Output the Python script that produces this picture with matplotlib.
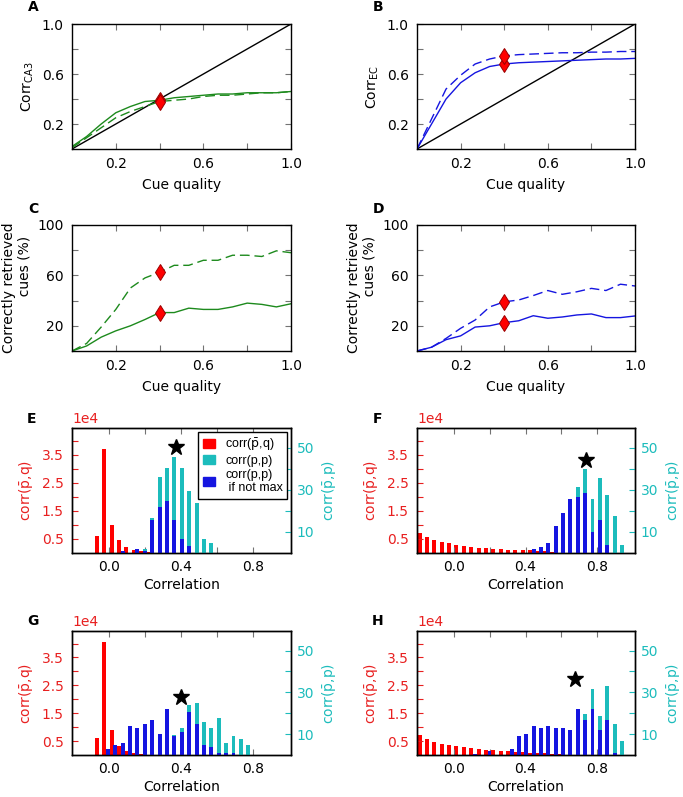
import matplotlib
matplotlib.use('Agg')
import matplotlib.pyplot as plt
from matplotlib.patches import Patch

plt.rcParams['font.family'] = 'DejaVu Sans'
plt.rcParams['font.size'] = 10

# cue quality steps used in panels A-D
cue = [0.0, 0.0667, 0.1333, 0.2, 0.2667, 0.3333, 0.4, 0.4667,
       0.5333, 0.6, 0.6667, 0.7333, 0.8, 0.8667, 0.9333, 1.0]
cue_mark = 0.4

corr_ca3 = [0.02, 0.10, 0.20, 0.29, 0.34, 0.38, 0.39, 0.41,
            0.42, 0.43, 0.44, 0.44, 0.45, 0.45, 0.45, 0.46]
corr_ca3_d = [0.01, 0.09, 0.17, 0.25, 0.30, 0.34, 0.38, 0.39,
              0.40, 0.42, 0.43, 0.43, 0.44, 0.45, 0.45, 0.46]
corr_ec = [0.0, 0.20, 0.40, 0.53, 0.61, 0.66, 0.68, 0.69,
           0.695, 0.70, 0.705, 0.71, 0.715, 0.72, 0.72, 0.725]
corr_ec_d = [0.0, 0.24, 0.48, 0.59, 0.68, 0.72, 0.745, 0.755,
             0.76, 0.765, 0.77, 0.77, 0.775, 0.775, 0.78, 0.78]
ret_ca3 = [0, 4, 11, 16, 20, 25, 30.5, 30.5, 34, 33, 33, 35, 38, 37, 35, 37.5]
ret_ca3_d = [0, 6, 19, 33, 50, 58, 62.5, 68, 68, 72, 72, 76, 76, 75, 79.5, 78]
ret_ec = [0, 3, 9, 12, 19, 20, 22.5, 24, 28, 26, 27, 28.6, 29.4, 26.5, 26.5, 27.8]
ret_ec_d = [0, 3, 10, 18, 24.6, 35, 39, 40.5, 44, 48, 45, 47, 49.7, 48, 53, 51.6]

# histogram bins (E-H)
bins_pq = [-0.19, -0.149, -0.108, -0.067, -0.026, 0.015, 0.056, 0.097, 0.138, 0.179,
           0.22, 0.261, 0.302, 0.343, 0.384, 0.425, 0.466, 0.507, 0.548, 0.589,
           0.63, 0.671, 0.712, 0.753, 0.794, 0.835, 0.876, 0.917, 0.958, 0.999]
bins_pp = [-0.17, -0.129, -0.088, -0.047, -0.006, 0.035, 0.076, 0.117, 0.158, 0.199,
           0.24, 0.281, 0.322, 0.363, 0.404, 0.445, 0.486, 0.527, 0.568, 0.609,
           0.65, 0.691, 0.732, 0.773, 0.814, 0.855, 0.896, 0.937, 0.978, 1.019]

# corr(p_bar, q) counts, units of 1e4
pq_E = [0, 0, 0, 0.61, 3.71, 1.0, 0.45, 0.21, 0.11, 0.07, 0.03, 0, 0, 0, 0,
        0, 0, 0, 0, 0, 0, 0, 0, 0, 0, 0, 0, 0, 0, 0]
pq_F = [0.70, 0.56, 0.46, 0.40, 0.35, 0.29, 0.25, 0.21, 0.19, 0.17,
        0.155, 0.13, 0.12, 0.11, 0.11, 0.095, 0.07, 0.06, 0.04, 0.01,
        0, 0, 0, 0, 0, 0, 0, 0, 0, 0]
pq_G = [0, 0, 0, 0.62, 4.05, 0.88, 0.32, 0.14, 0.06, 0.04, 0, 0, 0, 0, 0,
        0, 0, 0, 0, 0, 0, 0, 0, 0, 0, 0, 0, 0, 0, 0]
pq_H = [0.71, 0.56, 0.48, 0.38, 0.36, 0.32, 0.27, 0.24, 0.21, 0.18,
        0.18, 0.15, 0.14, 0.12, 0.11, 0.08, 0.07, 0.06, 0.05, 0.04,
        0, 0, 0, 0, 0, 0, 0, 0, 0, 0]

# corr(p, p_bar) counts
pp_E = [0, 0, 0, 0, 0, 0, 1.0, 0, 1.9, 2.1, 16.5, 35.9, 40.6, 45.7, 40.6,
        29.7, 23.7, 6.8, 4.9, 0, 0, 0, 0, 0, 0, 0, 0, 0, 0, 0]
nm_E = [0, 0, 0, 0, 0, 0, 1.0, 0, 1.9, 1.0, 15.9, 21.9, 24.8, 15.7, 6.8,
        3.5, 0, 0, 0, 0, 0, 0, 0, 0, 0, 0, 0, 0, 0, 0]
pp_F = [0, 0, 0, 0, 0, 0, 0, 0, 0, 0, 0, 0, 0, 0, 0,
        1.9, 2.7, 4.9, 12.9, 18.9, 25.7, 31.6, 39.7, 25.7, 35.6, 27.6, 17.8, 3.8, 0, 0]
nm_F = [0, 0, 0, 0, 0, 0, 0, 0, 0, 0, 0, 0, 0, 0, 0,
        1.9, 2.7, 4.9, 12.9, 18.9, 25.7, 26.8, 28.6, 9.8, 15.7, 3.8, 0, 0, 0, 0]
pp_G = [0, 0, 0, 0, 2.7, 4.9, 5.7, 13.7, 12.9, 14.7, 16.7, 9.9, 21.8, 9.7, 12.9,
        23.8, 24.7, 15.8, 12.9, 17.7, 5.7, 8.9, 7.8, 4.9, 0, 0, 0, 0, 0, 0]
nm_G = [0, 0, 0, 0, 2.7, 4.9, 5.7, 13.7, 12.9, 14.7, 16.7, 9.9, 21.8, 8.9, 10.8,
        20.7, 14.8, 4.8, 3.8, 1.0, 1.0, 1.0, 0, 0, 0, 0, 0, 0, 0, 0]
pp_H = [0, 0, 0, 0, 0, 0, 0, 0.6, 0, 1.8, 0, 0, 2.9, 8.9, 9.9,
        13.9, 12.9, 13.9, 12.9, 12.9, 11.8, 22.0, 19.8, 31.7, 18.8, 32.9, 14.8, 6.7, 0, 0]
nm_H = [0, 0, 0, 0, 0, 0, 0, 0.6, 0, 1.8, 0, 0, 2.9, 8.9, 9.9,
        13.9, 12.9, 13.9, 12.9, 12.9, 11.8, 22.0, 16.9, 21.8, 11.8, 16.9, 0.8, 0, 0, 0]

# mean correlation markers (x, right-axis y)
star_E = (0.372, 50.2)
star_F = (0.739, 44.0)
star_G = (0.40, 27.6)
star_H = (0.678, 36.2)

W, H = 683, 797
fig = plt.figure(figsize=(W / 100, H / 100), dpi=100)


def box(l, t, r, b):
    return [l / W, 1 - b / H, (r - l) / W, (b - t) / H]


def style(ax):
    ax.tick_params(direction='in', top=True, right=True, length=4,
                   color='0.45', labelsize=10, pad=6)
    for s in ax.spines.values():
        s.set_linewidth(1.0)


green = '#1d8a1d'
blue = '#1515e0'
lbl_pq = 'corr($\\bar{\\mathrm{p}}$,q)'
lbl_pp = 'corr($\\bar{\\mathrm{p}}$,p)'


def curve_panel(rect, y1, y2, col, ylabel, pct):
    ax = fig.add_axes(rect)
    style(ax)
    if pct:
        ax.set_ylim(0, 100)
        ax.set_yticks([20, 40, 60, 80, 100])
        ax.set_yticklabels(['20', '', '60', '', '100'])
    else:
        ax.axline((0, 0), (1, 1), color='k', lw=1)
        ax.set_ylim(0, 1)
        ax.set_yticks([0.2, 0.4, 0.6, 0.8, 1.0])
        ax.set_yticklabels(['0.2', '', '0.6', '', '1.0'])
    ax.plot(cue, y1, color=col, lw=1)
    ax.plot(cue, y2, color=col, lw=1, dashes=(7, 3.5))
    i = cue.index(cue_mark)
    ax.plot([cue_mark, cue_mark], [y1[i], y2[i]], 'd', ms=8.5,
            mfc='red', mec='#990000', mew=0.7, ls='none')
    ax.set_xlim(0, 1)
    ax.set_xticks([0.2, 0.4, 0.6, 0.8, 1.0])
    ax.set_xticklabels(['0.2', '', '0.6', '', '1.0'])
    ax.set_xlabel('Cue quality', labelpad=5)
    ax.set_ylabel(ylabel, labelpad=4)
    return ax


def hist_panel(rect, pq, pp, nm, star, legend=False):
    ax = fig.add_axes(rect)
    ax.bar(bins_pq, pq, width=0.022, color='#ff0000', lw=0)
    ax.set_xlim(-0.205, 1.01)
    ax.set_ylim(0, 4.45)
    ax.set_yticks([0.5, 1.0, 1.5, 2.0, 2.5, 3.0, 3.5, 4.0])
    ax.set_yticklabels(['0.5', '', '1.5', '', '2.5', '', '3.5', ''])
    ax.set_xticks([0.0, 0.2, 0.4, 0.6, 0.8])
    ax.set_xticklabels(['0.0', '', '0.4', '', '0.8'])
    ax.tick_params(axis='x', direction='in', top=True, length=4,
                   color='0.45', labelsize=10, pad=5)
    ax.tick_params(axis='y', direction='in', length=4, colors='#e82020',
                   labelsize=10, pad=6)
    ax.set_xlabel('Correlation', labelpad=3)
    ax.set_ylabel(lbl_pq, color='#e82020', labelpad=5)
    ax.text(0.0, 1.015, '1e4', transform=ax.transAxes, color='#e82020',
            fontsize=10, ha='left', va='bottom')
    ax2 = ax.twinx()
    ax2.bar(bins_pp, pp, width=0.022, color='#1cbcbc', lw=0)
    ax2.bar(bins_pp, nm, width=0.022, color=blue, lw=0)
    ax2.plot(star[0], star[1], marker='*', color='k', ms=12, ls='none')
    ax2.set_ylim(0, 59.4)
    ax2.set_yticks([10, 20, 30, 40, 50])
    ax2.set_yticklabels(['10', '', '30', '', '50'])
    ax2.tick_params(axis='y', direction='in', length=4, colors='#1cbcbc',
                    labelsize=10, pad=4)
    ax2.set_ylabel(lbl_pp, color='#1cbcbc', labelpad=4)
    for a in (ax, ax2):
        for s in a.spines.values():
            s.set_linewidth(1.0)
    if legend:
        handles = [Patch(color='#ff0000', label=lbl_pq),
                   Patch(color='#1cbcbc', label='corr(p,p)'),
                   Patch(color=blue, label='corr(p,p)\n if not max')]
        ax2.legend(handles=handles, loc='upper right', fancybox=False,
                   edgecolor='k', framealpha=1, handlelength=1.0,
                   handleheight=0.8, borderpad=0.35, labelspacing=0.15,
                   handletextpad=0.8, borderaxespad=0.3,
                   prop={'family': 'Liberation Sans', 'size': 9})
    return ax


curve_panel(box(72, 24, 291, 149), corr_ca3, corr_ca3_d, green,
            'Corr$_{\\mathrm{CA3}}$', False)
curve_panel(box(417, 24, 635, 149), corr_ec, corr_ec_d, blue,
            'Corr$_{\\mathrm{EC}}$', False)
curve_panel(box(72, 225, 291, 351), ret_ca3, ret_ca3_d, green,
            'Correctly retrieved\n          cues (%)', True)
curve_panel(box(417, 225, 635, 351), ret_ec, ret_ec_d, blue,
            'Correctly retrieved\n          cues (%)', True)

hist_panel(box(72, 428, 291, 553), pq_E, pp_E, nm_E, star_E, legend=True)
hist_panel(box(417, 428, 635, 553), pq_F, pp_F, nm_F, star_F)
hist_panel(box(72, 631, 291, 755), pq_G, pp_G, nm_G, star_G)
hist_panel(box(417, 631, 635, 755), pq_H, pp_H, nm_H, star_H)

letters = ['A', 'B', 'C', 'D', 'E', 'F', 'G', 'H']
letter_xy = [(33, 7), (378, 7), (33, 209), (378, 209),
             (31, 419), (377, 419), (33, 621), (378, 621)]
for t, (x, y) in zip(letters, letter_xy):
    fig.text(x / W, 1 - y / H, t, fontsize=10, fontweight='bold',
             ha='center', va='center')

fig.savefig('out.png', dpi=100)
